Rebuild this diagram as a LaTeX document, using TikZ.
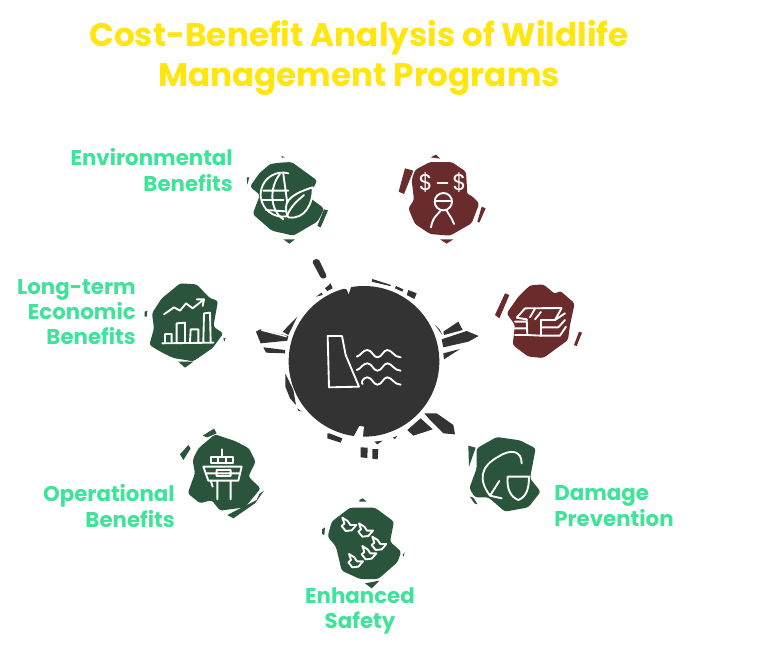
\documentclass[tikz,border=0pt]{standalone}
\usepackage{fontspec}
\setmainfont{Poppins}
\definecolor{titleY}{HTML}{FFE60F}
\definecolor{labelG}{HTML}{3FE39A}
\definecolor{blobG}{HTML}{2B543D}
\definecolor{blobR}{HTML}{692B2B}
\definecolor{hubK}{HTML}{333333}
\tikzset{
  titletext/.style={text=titleY,font=\bfseries\fontsize{24.5}{29.5}\selectfont,align=center,inner sep=0pt},
  lab/.style={text=labelG,font=\bfseries\fontsize{16}{19}\selectfont,inner sep=0pt},
  ink/.style={draw=white,line width=1.4pt,line cap=round,line join=round},
  crop/.style={x=0.25pt,y=-0.25pt},
  soft/.style={rounded corners=2pt}
}
\begin{document}
\begin{tikzpicture}[x=0.75pt,y=-0.75pt]
\useasboundingbox (0,0) rectangle (768,646);
\fill[white] (0,0) rectangle (768,646);
% title
\node[titletext] (title) at (359,58) {Cost-Benefit Analysis of Wildlife\\Management Programs};
% labels
\node[lab,align=right,anchor=east] (l1) at (233,170) {Environmental\\Benefits};
\node[lab,align=right,anchor=east] (l2) at (136,312) {Long-term\\Economic\\Benefits};
\node[lab,align=right,anchor=east] (l3) at (175,506) {Operational\\Benefits};
\node[lab,align=center] (l4) at (360,611) {Enhanced\\Safety};
\node[lab,align=left,anchor=west] (l5) at (554,506) {Damage\\Prevention};
% environmental blob
\begin{scope}[shift={(230,140)},crop]
\fill[blobG,soft] (120,72)--(150,68)--(185,66)--(262,122)--(235,170)--(282,205)--(275,222)--(262,245)--(190,287)--(125,272)--(68,222)--(90,165)--(60,140)--(88,100)--cycle;
\fill[blobG] (155,48)--(165,52)--(155,53)--cycle (160,298)--(195,298)--(178,311)--cycle (50,112)--(58,112)--(52,134)--cycle (282,208)--(294,211)--(272,262)--(262,258)--cycle;
\draw[ink] (175,100) arc (-75:-285:66);
\draw[ink] (150,102) .. controls (118,140) and (118,210) .. (160,238) (160,102)--(172,190) (100,152)--(175,152) (95,180)--(160,180) (108,210)--(168,214);
\draw[ink,fill=blobG] (175,232) .. controls (155,190) and (175,165) .. (248,142) .. controls (250,190) and (225,240) .. (175,232) -- cycle;
\draw[ink] (172,225) .. controls (185,195) and (205,180) .. (222,165);
\end{scope}
% red person blob
\begin{scope}[shift={(230,140)},crop]
\fill[blobR,soft] (555,90)--(600,66)--(665,66)--(708,95)--(712,165)--(722,165)--(748,190)--(725,250)--(660,287)--(600,282)--(555,252)--(535,205)--(552,180)--(545,120)--cycle;
\fill[blobR] (525,85)--(550,92)--(522,162)--(506,155)--cycle (602,52)--(618,44)--(630,56)--cycle (755,200)--(767,205)--(748,248)--(742,245)--cycle (630,298)--(670,298)--(650,311)--cycle;
\node[text=white,font=\fontsize{17}{17}\selectfont] (d1) at (587,129) {\$};
\node[text=white,font=\fontsize{17}{17}\selectfont] (d2) at (688,129) {\$};
\draw[ink] (623,130)--(652,130);
\draw[ink] (640,185) circle[radius=26];
\draw[ink] (617,182)--(662,182);
\draw[ink] (603,262) .. controls (608,230) and (625,222) .. (632,212) (672,252) .. controls (665,232) and (655,222) .. (650,212);
\end{scope}
% stacks blob
\begin{scope}[shift={(480,270)},crop]
\fill[blobR,soft] (115,80)--(150,46)--(190,43)--(225,72)--(240,62)--(284,100)--(270,165)--(264,210)--(190,264)--(145,260)--(98,225)--(105,165)--(80,130)--cycle;
\fill[blobR] (75,70)--(88,75)--(58,145)--(45,135)--cycle (297,185)--(306,188)--(290,228)--(282,225)--cycle;
\draw[ink] (110,143)--(135,115)--(245,114)--(225,150)--(183,150) (110,143)--(140,148);
\draw[ink] (165,116)--(150,142) (183,126)--(165,148) (140,148)--(142,195) (183,150)--(183,197);
\draw[ink] (105,155)--(140,155) (105,175)--(140,175) (105,195)--(142,195)--(183,197)--(240,197)--(258,170);
\draw[ink] (183,172)--(235,172)--(255,150) (225,150)--(255,130);
\end{scope}
% hub
\begin{scope}[shift={(240,250)},crop]
\fill[hubK,rounded corners=2pt] (215,32)--(235,25)--(262,82)--(245,88)--cycle;
\fill[hubK] (397,87)--(453,105)--(450,108)--(395,95)--cycle (468,108)--(490,118)--(487,125)--(465,115)--cycle (505,120)--(530,130)--(523,147)--(500,135)--cycle;
\fill[hubK] (255,115)--(272,100)--(278,115)--(262,123)--cycle (228,140)--(245,128)--(248,135)--cycle;
\fill[hubK] (48,245)--(60,238)--(145,258)--(142,272)--(62,280)--cycle;
\fill[white] (62,242)--(140,262)--(140,258)--(70,238)--cycle;
\fill[hubK] (70,292)--(135,300)--(135,310)--(78,308)--cycle (128,245)--(172,200)--(145,255)--cycle;
\fill[hubK] (585,225)--(607,255)--(600,240)--cycle (610,245)--(655,215)--(668,240)--(612,255)--cycle;
\fill[hubK] (605,268)--(680,243)--(716,258)--(685,275)--(610,292)--cycle (610,310)--(660,297)--(612,328)--cycle;
\fill[hubK] (553,490)--(590,490)--(640,525)--(645,553)--(610,550)--(570,510)--cycle (502,540)--(542,505)--(578,538)--(520,557)--cycle;
\fill[hubK] (262,550)--(268,550)--(307,565)--(302,578)--(262,565)--cycle (362,592)--(383,593)--(382,624)--(362,622)--cycle (397,597)--(415,597)--(413,628)--(397,626)--cycle;
\fill[hubK] (403,575)--(428,572)--(412,583)--cycle (458,563)--(472,558)--(465,567)--cycle;
\fill[hubK] (136,370)--(160,420)--(168,465)--(150,445)--(136,410)--cycle (172,475)--(185,485)--(175,482)--cycle;
\fill[hubK] (372,334) circle[radius=226];
\fill[white] (300,112)--(320,118)--(326,132)--(334,108)--cycle (340,562)--(358,528)--(372,530)--(368,565)--cycle;
\draw[ink] (263,258)--(306,258)--(317,315)--(357,410)--(267,412)--cycle;
\foreach \y/\s in {320/350,360/350,402/368}{
  \draw[ink] (\s,\y) .. controls (362,\y-2) and (368,\y-20) .. (382,\y-20) .. controls (396,\y-20) and (400,\y+2) .. (412,\y+2) .. controls (426,\y+2) and (430,\y-20) .. (442,\y-20) .. controls (456,\y-20) and (462,\y+2) .. (482,\y+2);
}
\end{scope}
% long-term blob
\begin{scope}[shift={(130,270)},crop]
\fill[blobG,soft] (120,65)--(150,40)--(200,43)--(240,85)--(264,92)--(250,170)--(280,190)--(248,234)--(190,274)--(130,264)--(95,247)--(58,225)--(72,175)--(66,130)--(95,85)--cycle;
\fill[blobG] (145,275)--(190,275)--(165,293)--cycle (44,125)--(52,122)--(50,140)--(44,140)--cycle (280,205)--(287,203)--(283,215)--cycle;
\draw[ink] (102,133)--(132,112)--(150,122)--(168,100)--(188,115)--(222,88) (200,88)--(222,88)--(218,108);
\draw[ink] (97,220)--(250,218) (105,215)--(105,192)--(125,192)--(125,215) (140,215)--(140,160)--(165,158)--(165,215) (180,215)--(182,178)--(205,178)--(205,215) (220,215)--(222,130)--(240,128)--(242,215);
\end{scope}
% tower blob
\begin{scope}[shift={(170,420)},crop]
\fill[blobG,soft] (85,85)--(135,43)--(195,63)--(237,85)--(257,125)--(235,170)--(272,205)--(225,262)--(150,272)--(125,240)--(90,250)--(53,220)--(75,160)--(68,120)--cycle;
\fill[blobG] (98,47)--(132,26)--(140,40)--(112,52)--cycle (30,103)--(55,75)--(62,85)--(40,120)--cycle (172,285)--(260,240)--(268,222)--(282,212)--(255,250)--(190,295)--cycle;
\draw[ink] (157,88)--(157,112) (122,130)--(122,112)--(188,112)--(188,130)--cycle (145,112)--(145,130) (168,112)--(168,130);
\draw[ink] (100,140)--(215,140)--(205,182)--(115,182)--cycle (108,160)--(208,160) (140,150)--(182,150)--(182,168)--(140,168)--cycle;
\draw[ink] (142,182)--(142,238) (182,182)--(182,238) (122,182)--(128,200);
\end{scope}
% birds blob
\begin{scope}[shift={(310,490)},crop]
\fill[blobG,soft] (65,95)--(120,53)--(195,53)--(252,95)--(240,155)--(274,185)--(262,217)--(205,267)--(150,267)--(95,242)--(78,170)--(53,140)--cycle;
\fill[blobG] (148,30)--(158,25)--(170,35)--(148,35)--cycle (165,280)--(208,272)--(185,295)--cycle (36,118)--(45,112)--(43,135)--(36,132)--cycle (278,195)--(284,187)--(281,200)--cycle;
\foreach \a/\b in {115/103,165/120,205/160,175/188,135/212}{
  \draw[ink] (\a-18,\b-20)--(\a-2,\b-10)--(\a+6,\b+2)--(\a+24,\b+2)--(\a+10,\b+18)--(\a-8,\b+20)--(\a-20,\b+5)--(\a-12,\b-2)--cycle;
}
\end{scope}
% damage blob
\begin{scope}[shift={(455,425)},crop]
\fill[blobG,soft] (65,70)--(125,36)--(195,46)--(242,70)--(225,160)--(257,200)--(220,247)--(150,260)--(100,217)--(60,217)--(43,190)--(65,130)--cycle;
\fill[blobG] (40,62)--(62,68)--(42,125)--cycle (45,215)--(55,218)--(68,238)--(58,235)--cycle;
\draw[ink] (105,212) .. controls (70,165) and (75,125) .. (130,95) .. controls (165,72) and (200,75) .. (200,115) (105,212)--(133,168) (105,212)--(140,220);
\draw[ink] (158,155)--(222,155) .. controls (222,190) and (215,215) .. (190,225) .. controls (165,215) and (155,190) .. (158,155) -- cycle;
\end{scope}
\end{tikzpicture}
\end{document}
